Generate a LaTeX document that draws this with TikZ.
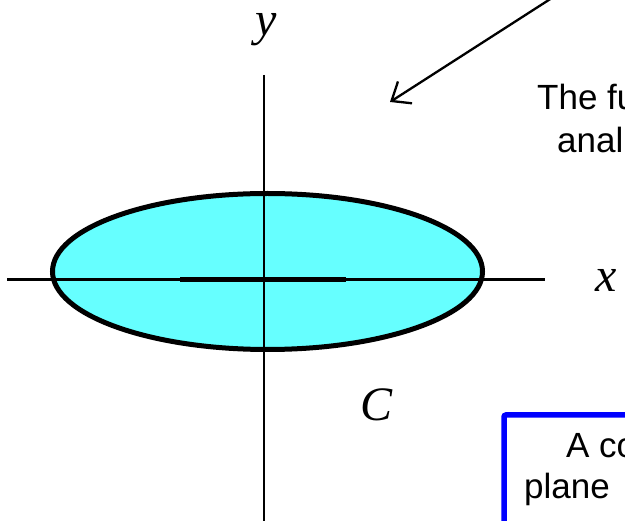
\documentclass[tikz,border=0pt]{standalone}
\usepackage{fontspec}
\setmainfont{Liberation Serif}
\setsansfont{Liberation Sans}
\usetikzlibrary{arrows.meta}
\definecolor{fillcyan}{HTML}{66FFFF}
\definecolor{boxblue}{HTML}{0000FF}
\begin{document}
\begin{tikzpicture}[x=1pt,y=-1pt,
  axis/.style={line width=2.3pt},
  curvestyle/.style={line width=5pt, fill=fillcyan},
  cutstyle/.style={line width=5pt},
  axlabel/.style={font=\fontsize{48}{52}\selectfont\itshape, inner sep=0pt},
  sanslabel/.style={font=\fontsize{35}{40}\selectfont\sffamily, inner sep=0pt, anchor=base west},
  pointer/.style={line width=2.3pt, -{Straight Barb[length=16pt,width=26pt,line width=2.3pt]}},
  bluebox/.style={draw=boxblue, line width=5.5pt, rounded corners=2pt}]
\useasboundingbox (0,0) rectangle (625,521);
\clip (0,0) rectangle (625,521);
% ellipse C
\draw[curvestyle] (267.5,271.5) ellipse [x radius=215, y radius=78];
% axes
\coordinate (xl) at (7,279.5);
\coordinate (xr) at (545,279.5);
\coordinate (yt) at (264,75);
\coordinate (yb) at (264,530);
\draw[axis] (xl) -- (xr);
\draw[axis] (yt) -- (yb);
% cut segment
\coordinate (c1) at (180,279.5);
\coordinate (c2) at (346,279.5);
\draw[cutstyle] (c1) -- (c2);
% labels
\node[axlabel] (ylab) at (266,30) {y};
\node[axlabel] (xlab) at (606,280) {x};
\node[axlabel] (clab) at (377,405) {C};
% pointer arrow
\coordinate (ps) at (555,-4);
\coordinate (pe) at (390,102);
\draw[pointer] (ps) -- (pe);
% text top right
\node[sanslabel] (t1) at (537,110) {The fu};
\node[sanslabel] (t2) at (557,153) {anal};
% blue box
\coordinate (b1) at (504,540);
\coordinate (b2) at (504,415);
\coordinate (b3) at (640,415);
\draw[bluebox] (b1) -- (b2) -- (b3);
\node[sanslabel] (t3) at (566,458) {A co};
\node[sanslabel] (t4) at (524,499) {plane};
\end{tikzpicture}
\end{document}
